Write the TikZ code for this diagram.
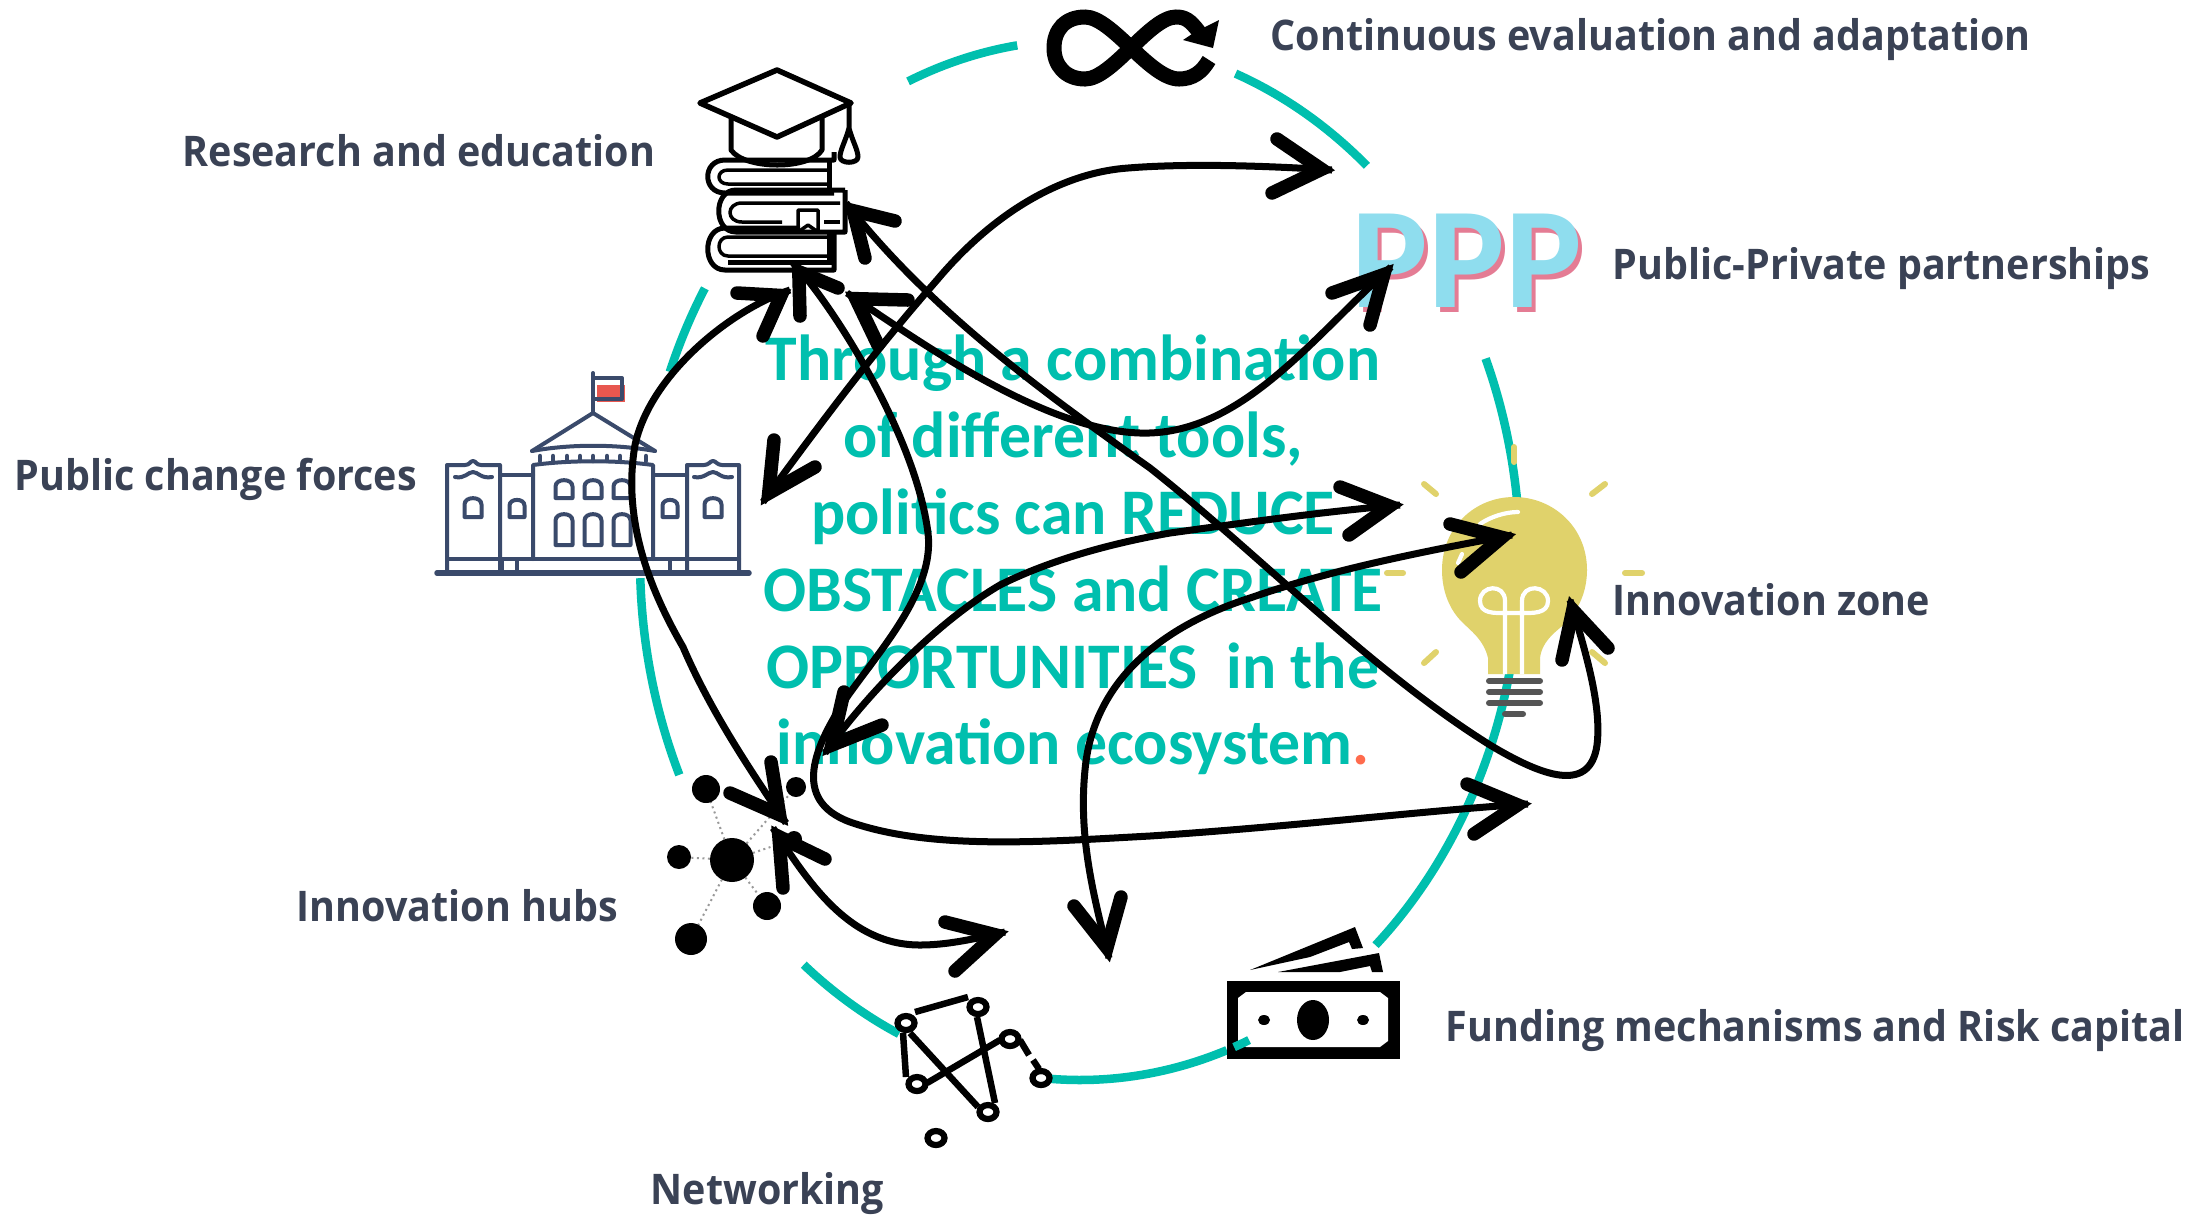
\documentclass[tikz,border=0pt]{standalone}
\usepackage{fontspec}
\usetikzlibrary{calc}
\setmainfont{Open Sans}
\newfontfamily\lblfont[FakeStretch=0.935]{Open Sans}
\newfontfamily\midfont[FakeStretch=0.98]{Carlito}
\newfontfamily\pppfont{Carlito}
\definecolor{teal1}{HTML}{00BFAE}
\definecolor{lblcol}{HTML}{3A4255}
\definecolor{bldg}{HTML}{3A4A6B}
\definecolor{flagred}{HTML}{E8574F}
\definecolor{bulb}{HTML}{E0D26B}
\definecolor{bulbbase}{HTML}{555555}
\definecolor{pppblue}{HTML}{8FDDEE}
\definecolor{ppppink}{HTML}{E47C94}
\definecolor{dotred}{HTML}{FF6B4D}
\tikzset{
  lbl/.style={anchor=base west,inner sep=0pt,text=lblcol,font=\lblfont\bfseries\fontsize{12}{14}\selectfont},
  ring/.style={line width=0.85mm,draw=teal1},
  conn/.style={draw=black,line width=0.7mm,line cap=butt},
  headstroke/.style={draw=black,line width=1.35mm,line cap=round,line join=miter,miter limit=20},
  bl/.style={draw=bldg,line width=0.4mm,line cap=round,line join=round},
  bk/.style={draw=black,line width=0.5mm,line join=round},
  ray/.style={draw=bulb,line width=0.6mm,line cap=round},
  bar/.style={draw=bulbbase,line width=0.6mm,line cap=round},
  wh/.style={draw=white,line width=0.42mm},
  net/.style={draw=black,line width=0.65mm},
  nod/.style={draw=black,fill=white,line width=0.62mm},
  dotl/.style={draw=gray!80,line width=0.2mm,densely dotted}
}
\newcommand{\tealarc}[2]{\draw[ring] plot[smooth,samples=50,domain=#1:#2,variable=\t] ({1080+440*cos(\t)},{560+520*sin(\t)});}
\newcommand{\archwin}[4]{\draw[bl] (#1-#3/2,#2+#4) -- (#1-#3/2,#2+#3/2) .. controls (#1-#3/2,#2) and (#1+#3/2,#2) .. (#1+#3/2,#2+#3/2) -- (#1+#3/2,#2+#4) -- cycle;}
\newcommand{\ahead}[3]{\draw[headstroke] (#2) -- ($(#1)!1.05mm!($(#2)!.5!(#3)$)$) -- (#3);}
\begin{document}
\begin{tikzpicture}[x=0.01cm,y=-0.01cm]
\useasboundingbox (0,0) rectangle (2212,1214);
\fill[white] (0,0) rectangle (2212,1214);
% ring
\tealarc{247}{261.8}
\tealarc{290.7}{310.7}
\tealarc{-22.8}{47.8}
\tealarc{70.5}{94}
\tealarc{114.3}{128.9}
\tealarc{155.6}{178}
\tealarc{201.2}{211.5}
% labels
\node[lbl] (lcont) at (1270,50) {Continuous evaluation and adaptation};
\node[lbl] (lres) at (182,166) {Research and education};
\node[lbl] (lppp) at (1612,279) {Public-Private partnerships};
\node[lbl] (lpub) at (14,490) {Public change forces};
\node[lbl] (lzone) at (1612,615) {Innovation zone};
\node[lbl] (lhub) at (296,921) {Innovation hubs};
\node[lbl] (lfund) at (1445,1041) {Funding mechanisms and Risk capital};
\node[lbl] (lnet) at (650,1204) {Networking};
% infinity
\draw[black,line width=1.5mm,line cap=butt] (1199,32) .. controls (1190,20) and (1185,17) .. (1176,17) .. controls (1150,17) and (1112,79) .. (1085,79) .. controls (1065,79) and (1054,65) .. (1054,48) .. controls (1054,30) and (1065,17) .. (1085,17) .. controls (1112,17) and (1150,79) .. (1179,79) .. controls (1193,79) and (1202,72) .. (1209,60);
\fill[black] (1219,20) -- (1213,48) -- (1183,40) -- (1195,32) -- cycle;
% cap and books
\draw[bk,line width=0.55mm] (777,70) -- (851,103) -- (777,137) -- (700,103) -- cycle;
\draw[bk] (731,117) -- (731,150) .. controls (745,170) and (810,170) .. (822,150) -- (822,117);
\draw[bk] (849,103) -- (849,128) .. controls (846,140) and (840,150) .. (840,157) .. controls (840,164) and (858,164) .. (858,157) .. controls (858,150) and (852,140) .. (849,128);
\draw[bk] (834,152) -- (834,160) -- (725,160) .. controls (702,160) and (702,193) .. (725,193) -- (834,193);
\draw[bk] (829,160) -- (829,193);
\draw[bk,line width=0.35mm] (829,170) -- (728,170) .. controls (716,170) and (716,184) .. (728,184) -- (829,184);
\draw[bk] (845,190) -- (736,190) .. controls (713,190) and (713,232) .. (736,232) -- (845,232) -- (845,190);
\draw[bk,line width=0.35mm] (840,203) -- (742,203) .. controls (726,203) and (726,222) .. (742,222) -- (782,222);
\draw[bk,line width=0.35mm] (824,222) -- (840,222);
\draw[bk,line width=0.35mm] (798,210) -- (818,210) -- (818,232) -- (808,225) -- (798,232) -- cycle;
\draw[bk] (834,232) -- (834,270) -- (725,270) .. controls (702,270) and (702,228) .. (725,228) -- (800,228);
\draw[bk] (829,232) -- (829,262);
\draw[bk,line width=0.35mm] (829,237) -- (728,237) .. controls (716,237) and (716,256) .. (728,256) -- (829,256);
\draw[bk] (834,262) -- (728,262);
% building
\fill[flagred] (597,385) rectangle (625,402);
\draw[bl,line width=0.55mm] (437,573) -- (749,573);
\draw[bl] (447,559) -- (739,559);
\draw[bl] (447,573) -- (447,465) -- (465,465) .. controls (470,465) and (470,461) .. (473,461) .. controls (476,461) and (476,465) .. (481,465) -- (500,465) -- (500,573);
\draw[bl] (687,573) -- (687,465) -- (704,465) .. controls (709,465) and (710,461) .. (713,461) .. controls (716,461) and (717,465) .. (722,465) -- (739,465) -- (739,573);
\draw[bl] (500,475) -- (533,475);
\draw[bl] (653,475) -- (687,475);
\draw[bl] (533,559) -- (533,465) .. controls (570,460) and (616,460) .. (653,465) -- (653,559);
\draw[bl] (532,451) -- (593,413) -- (655,451);
\draw[bl] (532,451) .. controls (570,444) and (616,444) .. (655,451);
\draw[bl] (593,413) -- (593,373);
\draw[bl] (593,378) -- (622,378) -- (622,399) -- (593,399);
\foreach \xx in {540,553,567,580,593,607,620,633,646}{\draw[bl,line width=0.45mm] (\xx,456) -- (\xx,461);}
\foreach \xx in {564,593,622}{\archwin{\xx}{478}{17}{20}\archwin{\xx}{512}{17}{33}}
\archwin{517}{498}{15}{19}
\archwin{670}{498}{15}{19}
\archwin{473}{496}{17}{21}
\archwin{713}{496}{17}{21}
\draw[bl] (455,477) .. controls (465,479) and (468,472) .. (473,472) .. controls (478,472) and (481,479) .. (492,477);
\draw[bl] (694,477) .. controls (704,479) and (708,472) .. (713,472) .. controls (718,472) and (721,479) .. (732,477);
\foreach \xx in {502,517,670,687}{\draw[bl] (\xx,559) -- (\xx,573);}
% bulb
\fill[bulb] (1488,674) -- (1488,658) .. controls (1484,640) and (1470,630) .. (1462,622) .. controls (1450,610) and (1442,592) .. (1442,570) .. controls (1442,527) and (1475,497) .. (1514,497) .. controls (1553,497) and (1587,527) .. (1587,570) .. controls (1587,592) and (1578,610) .. (1567,622) .. controls (1558,630) and (1542,640) .. (1540,658) -- (1540,674) -- cycle;
\draw[wh,line cap=round] (1518,512) .. controls (1505,512) and (1490,517) .. (1480,524);
\draw[wh,line cap=round] (1458,563) -- (1462,554);
\draw[wh] (1505,674) -- (1505,601) .. controls (1505,583) and (1480,585) .. (1480,601) .. controls (1480,614) and (1495,613) .. (1505,613) -- (1522,613) .. controls (1532,613) and (1548,614) .. (1548,601) .. controls (1548,585) and (1522,583) .. (1522,601) -- (1522,674);
\foreach \yy in {681,692,703}{\draw[bar] (1489,\yy) -- (1540,\yy);}
\draw[bar] (1505,714) -- (1523,714);
\draw[ray] (1514,447) -- (1514,462);
\draw[ray] (1424,484) -- (1436,494);
\draw[ray] (1592,494) -- (1605,484);
\draw[ray] (1387,573) -- (1403,573);
\draw[ray] (1625,573) -- (1642,573);
\draw[ray] (1424,663) -- (1436,652);
\draw[ray] (1592,652) -- (1605,663);
% PPP
\node[anchor=base west,inner sep=0pt,text=ppppink,font=\pppfont\bfseries\fontsize{41}{41}\selectfont] (pppb) at (1355,312) {PPP};
\node[anchor=base west,inner sep=0pt,text=pppblue,font=\pppfont\bfseries\fontsize{41}{41}\selectfont] (pppf) at (1351,307) {PPP};
% money
\fill[black] (1227,981) rectangle (1400,1059);
\fill[white] (1246,992) -- (1380,992) -- (1388,998) -- (1388,1041) -- (1380,1047) -- (1246,1047) -- (1238,1041) -- (1238,998) -- cycle;
\fill[black] (1313,1020) ellipse (16 and 20);
\fill[black] (1264,1020) ellipse (6 and 5);
\fill[black] (1363,1020) ellipse (6 and 5);
\fill[black] (1250,970) -- (1355,927) -- (1363,948) -- (1352,949) -- (1349,942) -- (1310,957) -- cycle;
\fill[black] (1278,972) -- (1379,953) -- (1383,972) -- (1372,972) -- (1370,966) -- (1340,972) -- cycle;
\tealarc{67.4}{69.5}
% hub
\foreach \xx/\yy in {706/789,796/787,679/857,767/906,691/939,794/839}{\draw[dotl] (732,860) -- (\xx,\yy);}
\fill[black] (732,860) circle (22);
\fill[black] (706,789) circle (14);
\fill[black] (796,787) circle (10);
\fill[black] (679,857) circle (12);
\fill[black] (767,906) circle (14);
\fill[black] (691,939) circle (16);
\fill[black] (794,839) circle (8);
% network
\draw[net] (915,1012) -- (968,997);
\draw[net] (903,1033) -- (906,1077);
\draw[net] (910,1033) -- (978,1107);
\draw[net] (977,1017) -- (995,1103);
\draw[net] (927,1083) -- (1000,1040);
\draw[net] (1020,1040) -- (1029,1055);
\draw[net] (1033,1060) -- (1039,1069);
\foreach \xx/\yy in {906/1023,978/1007,1010/1039,1041/1078,917/1084,988/1112,936/1138}{\draw[nod] (\xx,\yy) ellipse (8.5 and 7);}
% centre text
\node[inner sep=0pt,align=center,text=teal1,font=\midfont\bfseries\fontsize{18.5}{21.85}\selectfont] (mid) at (1073,555) {Through a combination\\ of different tools,\\ politics can REDUCE\\ OBSTACLES and CREATE\\ OPPORTUNITIES\ \ in the\\ innovation ecosystem\textcolor{dotred}{.}};
% head positions
\coordinate (t1) at (1332,170); \coordinate (a1) at (1277,139); \coordinate (b1) at (1272,193);
\coordinate (t2) at (846,203); \coordinate (a2) at (895,221); \coordinate (b2) at (865,258);
\coordinate (t3) at (1570,600); \coordinate (a3) at (1562,660); \coordinate (b3) at (1608,648);
\coordinate (t4) at (790,290); \coordinate (a4) at (737,293); \coordinate (b4) at (763,336);
\coordinate (t5) at (786,823); \coordinate (a5) at (730,793); \coordinate (b5) at (771,762);
\coordinate (t6) at (793,263); \coordinate (a6) at (800,316); \coordinate (b6) at (838,288);
\coordinate (t7) at (1528,804); \coordinate (a7) at (1467,784); \coordinate (b7) at (1474,834);
\coordinate (t8) at (847,293); \coordinate (a8) at (908,300); \coordinate (b8) at (878,345);
\coordinate (t9) at (1391,267); \coordinate (a9) at (1332,293); \coordinate (b9) at (1370,325);
\coordinate (t10) at (773,828); \coordinate (a10) at (825,859); \coordinate (b10) at (783,888);
\coordinate (t11) at (1005,932); \coordinate (a11) at (945,922); \coordinate (b11) at (955,971);
\coordinate (t12) at (1400,505); \coordinate (a12) at (1340,487); \coordinate (b12) at (1349,535);
\coordinate (t13) at (825,753); \coordinate (a13) at (844,692); \coordinate (b13) at (882,725);
\coordinate (t14) at (1109,958); \coordinate (a14) at (1074,906); \coordinate (b14) at (1121,897);
\coordinate (t15) at (1512,535); \coordinate (a15) at (1450,524); \coordinate (b15) at (1461,572);
\coordinate (t16) at (763,502); \coordinate (a16) at (774,440); \coordinate (b16) at (815,467);
% connectors
\draw[conn] (t16) .. controls (830,410) and (880,345) .. (937,280) .. controls (1000,205) and (1070,172) .. (1128,168) .. controls (1190,163) and (1270,166) .. (t1);
\draw[conn] (t2) .. controls (930,310) and (1040,390) .. (1150,468) .. controls (1260,555) and (1370,670) .. (1490,745) .. controls (1540,775) and (1590,795) .. (1597,745) .. controls (1602,705) and (1585,650) .. (t3);
\draw[conn] (t4) .. controls (730,310) and (650,375) .. (635,445) .. controls (622,520) and (650,590) .. (683,647) .. controls (710,710) and (750,770) .. (t5);
\draw[conn] (t6) .. controls (825,295) and (915,430) .. (928,533) .. controls (935,590) and (880,650) .. (847,697) .. controls (815,745) and (790,800) .. (850,822) .. controls (930,850) and (1040,842) .. (1150,836) .. controls (1300,826) and (1430,810) .. (t7);
\draw[conn] (t8) .. controls (910,335) and (1040,430) .. (1140,433) .. controls (1240,436) and (1310,340) .. (t9);
\draw[conn] (t10) .. controls (810,885) and (850,945) .. (920,945) .. controls (945,945) and (970,940) .. (t11);
\draw[conn] (t13) .. controls (870,690) and (940,620) .. (1000,585) .. controls (1060,555) and (1130,540) .. (1170,533) .. controls (1250,522) and (1320,512) .. (t12);
\draw[conn] (t14) .. controls (1095,900) and (1078,840) .. (1085,770) .. controls (1092,690) and (1150,630) .. (1250,598) .. controls (1330,570) and (1420,552) .. (t15);
% heads
\foreach \n in {1,...,16}{\ahead{t\n}{a\n}{b\n}}
\end{tikzpicture}
\end{document}
